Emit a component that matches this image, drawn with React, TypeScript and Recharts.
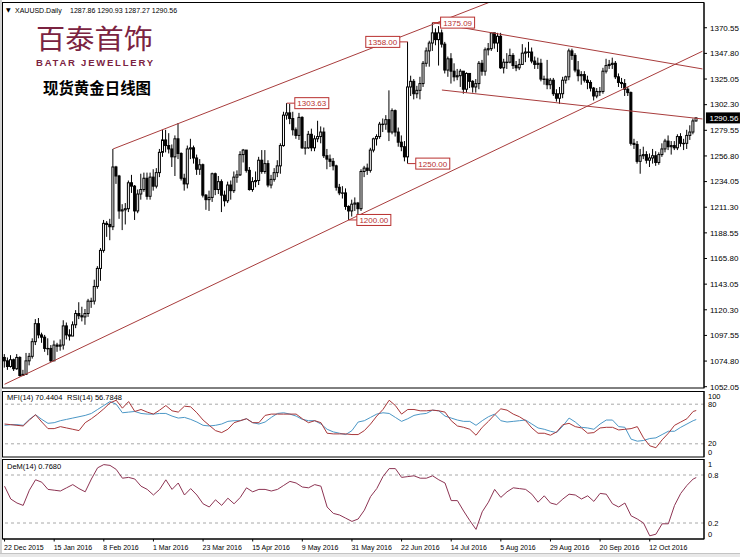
import React from "react";
import {
  Bar,
  ComposedChart,
  Line,
  LineChart,
  ReferenceDot,
  ReferenceLine,
  XAxis,
  YAxis,
} from "recharts";

const FONT = "'Liberation Sans', Arial, sans-serif";
const CJK = "'Noto Sans CJK SC', sans-serif";
const TREND = "#a83c3c";
const NOTE = "#b8302f";
const MFI_COLOR = "#a8373a";
const RSI_COLOR = "#4b97c6";
const DEM_COLOR = "#8d3453";
const DASH = "#a8a8a8";

// 224 daily bars plus two empty slots on the right
const SLOTS = 226;

const dateLabels = [
  "22 Dec 2015", "15 Jan 2016", "8 Feb 2016", "1 Mar 2016", "23 Mar 2016",
  "15 Apr 2016", "9 May 2016", "31 May 2016", "22 Jun 2016", "14 Jul 2016",
  "5 Aug 2016", "29 Aug 2016", "20 Sep 2016", "12 Oct 2016",
];
const dateTickIndex = [0, 16, 32, 48, 64, 80, 96, 112, 128, 144, 160, 176, 192, 208];

const priceTicks = [
  1370.55, 1347.8, 1325.05, 1302.3, 1279.55, 1256.8, 1234.05, 1211.3,
  1188.55, 1165.8, 1143.05, 1120.3, 1097.55, 1074.8, 1052.05,
];

const firstOpen = 1078;

const closes = [
  1075, 1070, 1076, 1068, 1078, 1062, 1063, 1075, 1079, 1092,
  1108, 1098, 1096, 1086, 1086, 1075, 1089, 1088, 1089, 1106,
  1098, 1097, 1107, 1117, 1115, 1114, 1117, 1128, 1128, 1141,
  1157, 1173, 1197, 1196, 1194, 1247, 1239, 1208, 1209, 1210,
  1233, 1230, 1208, 1223, 1227, 1237, 1221, 1238, 1230, 1242,
  1260, 1271, 1266, 1263, 1256, 1272, 1259, 1237, 1232, 1263,
  1264, 1255, 1245, 1249, 1222, 1218, 1220, 1241, 1227, 1234,
  1222, 1217, 1231, 1226, 1238, 1240, 1258, 1262, 1244, 1227,
  1234, 1235, 1253, 1243, 1250, 1231, 1236, 1242, 1248, 1266,
  1293, 1295, 1290, 1280, 1275, 1291, 1264, 1264, 1276, 1264,
  1272, 1274, 1278, 1257, 1254, 1252, 1248, 1229, 1224, 1224,
  1212, 1208, 1214, 1215, 1210, 1243, 1246, 1244, 1262, 1272,
  1274, 1285, 1285, 1289, 1278, 1297, 1278, 1269, 1265, 1256,
  1318, 1323, 1312, 1315, 1321, 1339, 1350, 1357, 1366, 1360,
  1366, 1356, 1333, 1343, 1332, 1327, 1328, 1332, 1316, 1330,
  1323, 1318, 1321, 1339, 1332, 1351, 1352, 1366, 1357, 1363,
  1335, 1340, 1340, 1346, 1337, 1335, 1338, 1348, 1349, 1349,
  1341, 1338, 1339, 1325, 1325, 1320, 1324, 1312, 1308, 1312,
  1324, 1327, 1350, 1346, 1333, 1328, 1329, 1324, 1322, 1317,
  1310, 1314, 1314, 1332, 1337, 1338, 1339, 1327, 1322, 1321,
  1316, 1313, 1268, 1267, 1252, 1257, 1258, 1253, 1255, 1257,
  1251, 1258, 1263, 1270, 1265, 1266, 1264, 1274, 1268, 1268,
  1275, 1278, 1287.86, 1290.56,
];

const highs = [
  1081, 1078, 1080, 1077, 1081, 1079, 1067, 1082, 1082, 1095,
  1112, 1113, 1100, 1098, 1095, 1089, 1093, 1091, 1094, 1111,
  1109, 1103, 1110, 1120, 1127, 1123, 1121, 1130, 1131, 1147,
  1159, 1175, 1200, 1199, 1201, 1263, 1248, 1240, 1214, 1215,
  1235, 1240, 1231, 1227, 1241, 1242, 1242, 1242, 1245, 1246,
  1263, 1280, 1280, 1277, 1267, 1275, 1286, 1260, 1241, 1266,
  1272, 1266, 1258, 1254, 1250, 1223, 1226, 1242, 1242, 1239,
  1236, 1226, 1234, 1235, 1243, 1244, 1261, 1263, 1262, 1247,
  1238, 1243, 1256, 1262, 1262, 1253, 1240, 1246, 1253, 1268,
  1296, 1303.63, 1303, 1296, 1282, 1295, 1292, 1270, 1279, 1281,
  1275, 1288, 1283, 1282, 1263, 1258, 1255, 1249, 1232, 1230,
  1228, 1213, 1218, 1220, 1216, 1245, 1248, 1250, 1264, 1273,
  1276, 1287, 1290, 1293, 1315, 1299, 1298, 1282, 1275, 1270,
  1358, 1328, 1325, 1319, 1327, 1341, 1353, 1359, 1375.09, 1370,
  1372, 1369, 1358, 1345, 1348, 1339, 1334, 1334, 1332, 1331,
  1330, 1324, 1325, 1341, 1342, 1353, 1357, 1366, 1366, 1366,
  1366, 1343, 1348, 1352, 1348, 1341, 1343, 1356, 1353, 1358,
  1353, 1345, 1344, 1343, 1328, 1342, 1326, 1326, 1316, 1318,
  1327, 1328, 1352, 1352, 1348, 1341, 1332, 1332, 1328, 1324,
  1318, 1317, 1318, 1335, 1343, 1342, 1344, 1341, 1330, 1326,
  1325, 1318, 1314, 1272, 1270, 1263, 1265, 1261, 1259, 1263,
  1261, 1260, 1268, 1272, 1275, 1270, 1270, 1276, 1277, 1272,
  1280, 1284, 1290, 1290.93,
];

const lows = [
  1069, 1067, 1069, 1066, 1067, 1061, 1062, 1063, 1071, 1077,
  1089, 1095, 1091, 1083, 1080, 1074, 1075, 1083, 1084, 1085,
  1094, 1093, 1097, 1104, 1112, 1110, 1107, 1114, 1122, 1125,
  1139, 1146, 1171, 1185, 1182, 1191, 1232, 1201, 1191, 1196,
  1207, 1224, 1200, 1206, 1218, 1225, 1218, 1218, 1226, 1228,
  1238, 1256, 1260, 1259, 1247, 1239, 1254, 1235, 1226, 1228,
  1254, 1250, 1240, 1240, 1220, 1209, 1208, 1216, 1222, 1223,
  1207, 1212, 1215, 1218, 1224, 1233, 1239, 1251, 1242, 1226,
  1225, 1229, 1231, 1241, 1241, 1229, 1228, 1234, 1238, 1241,
  1265, 1289, 1285, 1275, 1272, 1271, 1263, 1258, 1263, 1261,
  1261, 1269, 1268, 1255, 1245, 1247, 1244, 1226, 1222, 1219,
  1209, 1200, 1203, 1208, 1205, 1208, 1238, 1240, 1242, 1260,
  1266, 1272, 1278, 1280, 1270, 1276, 1274, 1265, 1261, 1252,
  1250, 1310, 1307, 1308, 1307, 1318, 1336, 1336, 1350, 1355,
  1337, 1353, 1330, 1327, 1321, 1323, 1324, 1318, 1312, 1313,
  1317, 1313, 1313, 1316, 1328, 1328, 1346, 1350, 1352, 1349,
  1334, 1330, 1334, 1339, 1334, 1332, 1333, 1338, 1340, 1344,
  1339, 1334, 1334, 1323, 1320, 1316, 1316, 1310, 1305, 1303,
  1308, 1321, 1324, 1342, 1331, 1323, 1320, 1322, 1316, 1314,
  1306, 1308, 1310, 1312, 1330, 1334, 1334, 1325, 1318, 1317,
  1310, 1310, 1266, 1263, 1250, 1241, 1254, 1250, 1247, 1250,
  1248, 1249, 1256, 1260, 1262, 1258, 1262, 1262, 1265, 1262,
  1263, 1271, 1276, 1287.27,
];

// oscillators, one reading every second bar (0, 2, 4 ... 222) plus the live bar
const mfiEven = [
  50, 49, 48, 47, 56, 64, 53, 43, 43, 46,
  44, 42, 40, 52, 58, 65, 73, 82, 86, 74,
  84, 69, 72, 68, 65, 71, 78, 70, 68, 77,
  76, 67, 56, 48, 40, 37, 42, 52, 55, 58,
  52, 52, 63, 65, 65, 65, 65, 65, 58, 52,
  55, 52, 36, 35, 35, 35, 34, 34, 40, 50,
  62, 72, 86, 78, 65, 72, 72, 70, 70, 71,
  70, 68, 55, 47, 45, 42, 33, 45, 54, 64,
  73, 71, 65, 61, 55, 44, 36, 36, 33, 38,
  49, 51, 46, 44, 36, 37, 44, 45, 45, 41,
  42, 43, 46, 29, 17, 14, 26, 36, 48, 53,
  58, 69,
];
const rsiEven = [
  48, 49, 49, 48, 57, 64, 57, 51, 52, 55,
  57, 59, 61, 63, 66, 72, 78, 84, 80, 67,
  68, 69, 66, 65, 65, 66, 66, 62, 59, 60,
  57, 53, 48, 47, 48, 50, 54, 55, 55, 58,
  52, 50, 53, 60, 66, 67, 65, 62, 57, 55,
  55, 50, 42, 38, 36, 34, 40, 53, 55, 60,
  65, 67, 66, 60, 54, 58, 63, 65, 66, 71,
  70, 62, 59, 56, 54, 54, 48, 55, 61, 65,
  55, 53, 54, 55, 56, 50, 44, 42, 39, 37,
  47, 59, 53, 45, 44, 42, 50, 56, 56, 46,
  45, 27, 24, 25, 28, 29, 34, 39, 39, 45,
  50, 55,
];
const demEven = [
  0.66, 0.5, 0.45, 0.42, 0.61, 0.74, 0.71, 0.62, 0.61, 0.6,
  0.64, 0.68, 0.63, 0.59, 0.75, 0.89, 0.93, 0.92, 0.87, 0.76,
  0.77, 0.75, 0.66, 0.62, 0.55, 0.62, 0.74, 0.62, 0.7, 0.55,
  0.63, 0.55, 0.44, 0.4, 0.49, 0.42, 0.51, 0.44, 0.52, 0.64,
  0.59, 0.62, 0.62, 0.6, 0.62, 0.67, 0.72, 0.7, 0.65, 0.64,
  0.68, 0.66, 0.4, 0.32, 0.3, 0.26, 0.22, 0.25, 0.36, 0.53,
  0.63, 0.78, 0.88, 0.88, 0.77, 0.78, 0.79, 0.76, 0.76, 0.79,
  0.74, 0.7, 0.48, 0.48, 0.35, 0.23, 0.12, 0.34, 0.46, 0.62,
  0.52, 0.59, 0.64, 0.63, 0.62, 0.56, 0.46, 0.54, 0.45, 0.43,
  0.5, 0.56, 0.55, 0.5, 0.54, 0.47, 0.57, 0.56, 0.44, 0.4,
  0.45, 0.29, 0.25, 0.2, 0.04, 0.06, 0.19, 0.19, 0.42, 0.57,
  0.67, 0.75,
];
const mfiLast = 70.4404;
const rsiLast = 56.7848;
const demLast = 0.768;

// trend lines as [bar index, price] anchor pairs
const trendLines = [
  [[35, 1263], [160, 1397.1]],
  [[0, 1054.2], [225, 1349.7]],
  [[138, 1375.09], [225, 1334.0]],
  [[141, 1315.3], [225, 1289.6]],
];

const LAST = closes.length - 1;

const rows = Array.from({ length: SLOTS }, (_, i) => {
  const real = i <= LAST;
  const k = i / 2;
  const sampled = i % 2 === 0 && k < mfiEven.length;
  return {
    i,
    open: real ? (i === 0 ? firstOpen : closes[i - 1]) : null,
    high: real ? highs[i] : null,
    low: real ? lows[i] : null,
    close: real ? closes[i] : null,
    range: real ? [lows[i], highs[i]] : null,
    mfi: i === LAST ? mfiLast : sampled ? mfiEven[k] : null,
    rsi: i === LAST ? rsiLast : sampled ? rsiEven[k] : null,
    dem: i === LAST ? demLast : sampled ? demEven[k] : null,
  };
});

const notes = [
  { i: 91, price: highs[91], left: false },
  { i: 130, price: highs[130], left: true },
  { i: 130, price: lows[130], left: false },
  { i: 111, price: lows[111], left: false },
  { i: 138, price: highs[138], left: false },
];

function Candle(props: any) {
  const { x, y, width, height, payload } = props;
  if (!payload || payload.high == null) return null;
  const { open, close, high, low } = payload;
  const cx = x + width / 2;
  const span = high - low || 1;
  const py = (v: number) => y + ((high - v) / span) * height;
  const top = py(Math.max(open, close));
  const bot = py(Math.min(open, close));
  const up = close >= open;
  return (
    <g>
      <line x1={cx} x2={cx} y1={y} y2={y + height} stroke="#000" strokeWidth={1} />
      <rect
        x={cx - 1}
        y={top}
        width={2}
        height={Math.max(bot - top, 0.4)}
        fill={up ? "#fff" : "#000"}
        stroke="#000"
        strokeWidth={1}
      />
    </g>
  );
}

const noteShape = (text: string, left: boolean) => (p: any) => {
  const { cx, cy } = p;
  const w = 34;
  const h = 11;
  const bx = left ? cx - 8 - w : cx + 8;
  return (
    <g>
      <line x1={left ? bx + w : cx} x2={left ? cx : bx} y1={cy} y2={cy} stroke={NOTE} strokeWidth={1} />
      <rect x={bx} y={cy - h / 2} width={w} height={h} fill="#fff" stroke={NOTE} strokeWidth={1} />
      <text x={bx + w / 2} y={cy + 3} textAnchor="middle" fontSize={8} fill={NOTE} fontFamily={FONT}>
        {text}
      </text>
    </g>
  );
};

const priceTag = (p: any) => {
  const { cx, cy } = p;
  return (
    <g>
      <rect x={cx + 3.5} y={cy - 5.5} width={34} height={11} fill="#000" />
      <text x={cx + 7} y={cy + 3} fontSize={8} fill="#fff" fontFamily={FONT}>
        {closes[LAST].toFixed(2)}
      </text>
    </g>
  );
};

const subTick = (top: number, bottom: number) => (props: any) => {
  const { x, y, payload } = props;
  const v = payload.value;
  const shift = v === top ? 5 : v === bottom ? -4.5 : 0;
  return (
    <text x={x} y={y + shift} dy="0.35em" fontSize={7.5} fontFamily={FONT} fill="#000">
      {String(v)}
    </text>
  );
};

function DateTick(props: any) {
  const { x, y, payload } = props;
  const k = dateTickIndex.indexOf(payload.value);
  if (k < 0) return <g />;
  return (
    <g>
      <line x1={x} x2={x} y1={y - 4} y2={y - 1.5} stroke="#000" />
      <text x={x - 0.5} y={y + 7} fontSize={7} fontFamily={FONT} fill="#000">
        {dateLabels[k]}
      </text>
    </g>
  );
}

const fmt = (v: number) => v.toFixed(2);

export default function App() {
  const lastOpen = closes[LAST - 1];
  return (
    <div
      style={{
        position: "absolute",
        left: 0,
        top: 0,
        width: 740,
        height: 557,
        background: "#fff",
        overflow: "hidden",
      }}
    >
      <div style={{ position: "absolute", left: 0, top: 0 }}>
        <ComposedChart width={740} height={392} data={rows} margin={{ top: 3, right: 0, bottom: 4, left: 3 }}>
          <XAxis dataKey="i" hide />
          <YAxis
            orientation="right"
            width={36}
            domain={[1050.9, 1392.5]}
            allowDataOverflow
            ticks={priceTicks}
            interval={0}
            tickFormatter={(v: number) => v.toFixed(2)}
            tick={{ fontSize: 8, fill: "#000", fontFamily: FONT }}
            tickSize={3}
            tickMargin={3}
            axisLine={{ stroke: "#000" }}
            tickLine={{ stroke: "#000" }}
          />
          <Bar dataKey="range" shape={(p: any) => <Candle {...p} />} isAnimationActive={false} />
          {trendLines.map((seg, n) => (
            <ReferenceLine
              key={`t${n}`}
              segment={[
                { x: seg[0][0], y: seg[0][1] },
                { x: seg[1][0], y: seg[1][1] },
              ]}
              stroke={TREND}
              strokeWidth={1}
              ifOverflow="hidden"
            />
          ))}
          {notes.map((nt, n) => (
            <ReferenceDot
              key={`n${n}`}
              x={nt.i}
              y={nt.price}
              r={0}
              ifOverflow="visible"
              shape={noteShape(fmt(nt.price), nt.left)}
            />
          ))}
          <ReferenceDot x={SLOTS - 1} y={closes[LAST]} r={0} ifOverflow="visible" shape={priceTag} />
        </ComposedChart>
      </div>

      <div style={{ position: "absolute", left: 0, top: 388 }}>
        <LineChart width={740} height={69} data={rows} margin={{ top: 3, right: 0, bottom: 0, left: 3 }}>
          <XAxis dataKey="i" hide scale="band" />
          <YAxis
            orientation="right"
            width={36}
            domain={[0, 100]}
            ticks={[100, 80, 20, 0]}
            interval={0}
            tick={subTick(100, 0)}
            tickLine={false}
            tickSize={3}
            tickMargin={1}
            axisLine={{ stroke: "#000" }}
          />
          <ReferenceLine y={80} stroke={DASH} strokeDasharray="3 3" />
          <ReferenceLine y={20} stroke={DASH} strokeDasharray="3 3" />
          <Line dataKey="rsi" stroke={RSI_COLOR} strokeWidth={1} dot={false} connectNulls isAnimationActive={false} />
          <Line dataKey="mfi" stroke={MFI_COLOR} strokeWidth={1} dot={false} connectNulls isAnimationActive={false} />
        </LineChart>
      </div>

      <div style={{ position: "absolute", left: 0, top: 456 }}>
        <LineChart width={740} height={97} data={rows} margin={{ top: 3, right: 0, bottom: 0, left: 3 }}>
          <XAxis
            dataKey="i"
            scale="band"
            height={14}
            interval={0}
            tick={DateTick}
            tickLine={false}
            tickSize={2}
            tickMargin={2}
            axisLine={{ stroke: "#000" }}
          />
          <YAxis
            orientation="right"
            width={36}
            domain={[0, 1]}
            ticks={[1, 0.8, 0.2, 0]}
            interval={0}
            tick={subTick(1, 0)}
            tickLine={false}
            tickSize={3}
            tickMargin={1}
            axisLine={{ stroke: "#000" }}
          />
          <ReferenceLine y={0.8} stroke={DASH} strokeDasharray="3 3" />
          <ReferenceLine y={0.2} stroke={DASH} strokeDasharray="3 3" />
          <Line dataKey="dem" stroke={DEM_COLOR} strokeWidth={1} dot={false} connectNulls isAnimationActive={false} />
        </LineChart>
      </div>

      <svg
        width={740}
        height={557}
        style={{ position: "absolute", left: 0, top: 0, pointerEvents: "none" }}
      >
        <rect x={0} y={0} width={2} height={557} fill="#d2d2d2" />
        <rect x={0} y={553} width={740} height={4} fill="#e8e8e8" />
        <line x1={0} x2={740} y1={553.5} y2={553.5} stroke="#c4c4c4" />
        <rect x={2.5} y={2.5} width={701.5} height={385.5} fill="none" stroke="#000" />
        <rect x={2.5} y={391.5} width={701.5} height={65.5} fill="none" stroke="#000" />
        <rect x={2.5} y={459.5} width={701.5} height={79.5} fill="none" stroke="#000" />

        <text x={6} y={12} fontSize={6} fontFamily="'DejaVu Sans', sans-serif" fill="#000">▼</text>
        <text x={15} y={13} fontSize={7} fontFamily={FONT} fill="#000">XAUUSD.Daily</text>
        <text x={70} y={13} fontSize={7} fontFamily={FONT} fill="#000">
          {`${fmt(lastOpen)} ${fmt(highs[LAST])} ${fmt(lows[LAST])} ${fmt(closes[LAST])}`}
        </text>

        {/* brand block */}
        <text x={36} y={48.5} fontSize={27} fontFamily={CJK} fill="#7b2341" textLength={117} lengthAdjust="spacingAndGlyphs">
          百泰首饰
        </text>
        <text x={36} y={65.5} fontSize={9.5} fontWeight={700} fontFamily={FONT} fill="#7b2341" textLength={117} lengthAdjust="spacing">
          BATAR JEWELLERY
        </text>
        <text x={43} y={94} fontSize={15.5} fontWeight={700} fontFamily={CJK} fill="#000" textLength={108} lengthAdjust="spacingAndGlyphs">
          现货黄金日线图
        </text>

        <text x={7} y={400} fontSize={7.5} fontFamily={FONT} fill="#000">{`MFI(14) ${mfiLast.toFixed(4)}`}</text>
        <text x={67} y={400} fontSize={7.5} fontFamily={FONT} fill="#000">{`RSI(14) ${rsiLast.toFixed(4)}`}</text>
        <text x={7} y={469} fontSize={7.5} fontFamily={FONT} fill="#000">{`DeM(14) ${demLast.toFixed(4)}`}</text>
      </svg>
    </div>
  );
}
